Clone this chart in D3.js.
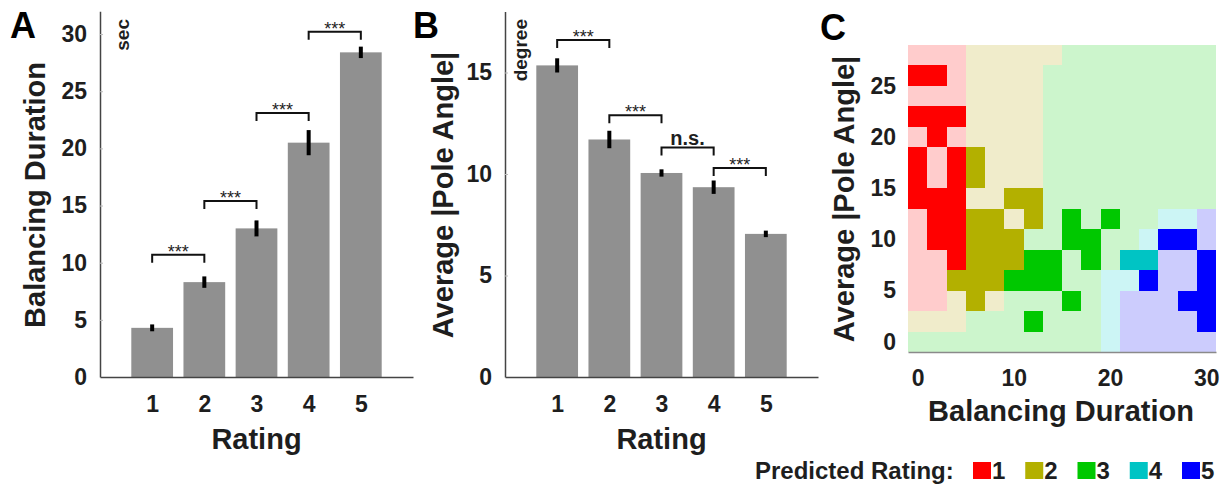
<!DOCTYPE html>
<html>
<head>
<meta charset="utf-8">
<script src="https://cdn.jsdelivr.net/npm/d3@7"></script>
<style>
  body { margin: 0; background: #fff; }
  svg  { display: block; font-family: "Liberation Sans", Arial, sans-serif; }
</style>
</head>
<body>
<svg id="chart" width="1224" height="485"></svg>
<script>
// ── Data ─────────────────────────────────────────────
const ratings = [1, 2, 3, 4, 5];

// A: balancing duration (sec) per rating
const durMean = [4.3, 8.3, 13.0, 20.5, 28.4];
const durErr  = [0.3, 0.5, 0.7, 1.1, 0.5];
const durTicks = [0, 5, 10, 15, 20, 25, 30];
const durSig  = [[1, 2, 10.7, '***'], [2, 3, 15.4, '***'], [3, 4, 23.1, '***'], [4, 5, 30.2, '***']];

// B: average |pole angle| (degree) per rating
const angMean = [15.35, 11.7, 10.05, 9.35, 7.05];
const angErr  = [0.35, 0.43, 0.18, 0.33, 0.16];
const angTicks = [0, 5, 10, 15];
const angSig  = [[1, 2, 16.6, '***'], [2, 3, 12.9, '***'], [3, 4, 11.3, 'n.s.'], [4, 5, 10.3, '***']];

// C: predicted rating map; columns = duration bins, rows = angle bins (top row first)
// '1'..'5' = observed cell, 'a'..'e' = background prediction 1..5
const gridX = [0, 2, 4, 6, 8, 10, 12, 14, 16, 18, 20, 22, 24, 26, 28, 30];
const gridY = [28, 26, 24, 22, 20, 18, 16, 14, 12, 10, 8, 6, 4, 2, 0];
const gridRows = [
  'aaabbbbbcccccccc',
  '11abbbbccccccccc',
  'aaabbbbccccccccc',
  '111bbbbccccccccc',
  'a1abbbbccccccccc',
  '1a12bbbccccccccc',
  '1a12bbbccccccccc',
  '111bb22ccccccccc',
  'a1122b2c3c3ccdde',
  'a11222cc33ccd55e',
  'aa122233c3c44ee5',
  'aa222333ccdd5ee5',
  'aab2bccc3cdeee55',
  'bbbccc3cccdeeee5',
  'ccccccccccdeeeee'
];
const mapXTicks = [0, 10, 20, 30];
const mapYTicks = [0, 5, 10, 15, 20, 25];
const classStrong = ['#ff0000', '#b3b000', '#00c800', '#00c4c4', '#0000ff'];
const classLight  = ['#ffcccc', '#f0eccb', '#ccf5cc', '#ccf5f5', '#ccccfd'];

// ── Setup ────────────────────────────────────────────
const svg = d3.select('#chart');
const INK = '#1e1e1e';
const BASE = 377;
const fmtInt = d3.format('d');

function styleAxis(g, size) {
  g.selectAll('text')
    .attr('font-size', size)
    .attr('font-weight', 'bold')
    .attr('font-family', '"Liberation Sans", Arial, sans-serif')
    .attr('fill', INK);
}

// ── Bar panels (A, B) ────────────────────────────────
function barPanel(p) {
  const x = d3.scaleLinear().domain([0, 6]).range([p.x0, p.x1]);
  const y = d3.scaleLinear().domain([0, p.ymax]).range([BASE, p.yTop]);
  const g = svg.append('g');
  const bw = x(0.8) - x(0);

  g.append('g').selectAll('rect').data(ratings).join('rect')
    .attr('x', d => x(d) - bw / 2)
    .attr('width', bw)
    .attr('y', (d, i) => y(p.mean[i]))
    .attr('height', (d, i) => y(0) - y(p.mean[i]))
    .attr('fill', '#909090');

  g.append('g').selectAll('line').data(ratings).join('line')
    .attr('x1', d => x(d)).attr('x2', d => x(d))
    .attr('y1', (d, i) => y(p.mean[i] - p.err[i]))
    .attr('y2', (d, i) => y(p.mean[i] + p.err[i]))
    .attr('stroke', '#000')
    .attr('stroke-width', 4);

  // axes
  const ya = g.append('g').attr('transform', `translate(${p.x0},0)`)
    .call(d3.axisLeft(y).tickValues(p.ticks).tickFormat(fmtInt)
      .tickSizeInner(-3).tickSizeOuter(0).tickPadding(13));
  ya.select('.domain').attr('stroke', '#444').attr('stroke-width', 1.5);
  ya.selectAll('.tick line').attr('stroke', '#bbb');
  styleAxis(ya, 23);

  const xa = g.append('g').attr('transform', `translate(0,${BASE})`)
    .call(d3.axisBottom(x).tickValues(ratings).tickFormat(fmtInt).tickSize(0).tickPadding(19));
  xa.select('.domain').attr('stroke', '#444').attr('stroke-width', 1.5);
  styleAxis(xa, 23);

  // significance brackets
  const sg = g.append('g');
  p.sig.forEach(([a, b, h, lab]) => {
    const yy = y(h);
    sg.append('path')
      .attr('d', `M${x(a)},${yy + 8}V${yy}H${x(b)}V${yy + 8}`)
      .attr('fill', 'none')
      .attr('stroke', '#111')
      .attr('stroke-width', 2);
    const stars = lab === '***';
    sg.append('text')
      .attr('x', (x(a) + x(b)) / 2)
      .attr('y', stars ? yy + 3 : yy - 3)
      .attr('text-anchor', 'middle')
      .attr('font-size', stars ? 18 : 20)
      .attr('font-weight', stars ? 'normal' : 'bold')
      .attr('fill', INK)
      .text(lab);
  });

  // unit label
  g.append('text')
    .attr('transform', `translate(${p.unitX},19) rotate(-90)`)
    .attr('text-anchor', 'end')
    .attr('font-size', 19)
    .attr('font-weight', 'bold')
    .attr('fill', INK)
    .text(p.unit);

  // axis titles
  g.append('text')
    .attr('transform', `translate(${p.titleX},195) rotate(-90)`)
    .attr('text-anchor', 'middle')
    .attr('font-size', 29)
    .attr('font-weight', 'bold')
    .attr('fill', INK)
    .text(p.ylabel);

  g.append('text')
    .attr('x', x(3)).attr('y', 449)
    .attr('text-anchor', 'middle')
    .attr('font-size', 29)
    .attr('font-weight', 'bold')
    .attr('fill', INK)
    .text('Rating');

  g.append('text')
    .attr('x', p.letterX).attr('y', 38)
    .attr('font-size', 36)
    .attr('font-weight', 'bold')
    .attr('fill', '#000')
    .text(p.letter);
}

barPanel({
  x0: 100, x1: 413, ymax: 32, yTop: 11.2,
  mean: durMean, err: durErr, ticks: durTicks, sig: durSig,
  unit: 'sec', unitX: 129, ylabel: 'Balancing Duration', titleX: 45,
  letter: 'A', letterX: 10
});

barPanel({
  x0: 505, x1: 818, ymax: 18, yTop: 11.6,
  mean: angMean, err: angErr, ticks: angTicks, sig: angSig,
  unit: 'degree', unitX: 527, ylabel: 'Average |Pole Angle|', titleX: 453,
  letter: 'B', letterX: 413
});

// ── Panel C: predicted rating map ────────────────────
(function () {
  const x = d3.scaleLinear().domain([-1, 31]).range([908, 1216]);
  const y = d3.scaleLinear().domain([-1, 29]).range([352, 45]);
  const g = svg.append('g');

  const cells = [];
  gridRows.forEach((row, r) => {
    row.split('').forEach((ch, c) => {
      const strong = ch >= '1' && ch <= '5';
      const cls = strong ? +ch : 'abcde'.indexOf(ch) + 1;
      cells.push({ cx: gridX[c], cy: gridY[r], cls, strong });
    });
  });

  g.append('g').selectAll('rect').data(cells).join('rect')
    .attr('x', d => x(d.cx - 1))
    .attr('y', d => y(d.cy + 1))
    .attr('width', d => x(d.cx + 1) - x(d.cx - 1) + 0.4)
    .attr('height', d => y(d.cy - 1) - y(d.cy + 1) + 0.4)
    .attr('shape-rendering', 'crispEdges')
    .attr('fill', d => d.strong ? classStrong[d.cls - 1] : classLight[d.cls - 1]);

  const xa = g.append('g').attr('transform', 'translate(0,352)')
    .call(d3.axisBottom(x).tickValues(mapXTicks).tickFormat(fmtInt).tickSize(0).tickPadding(18));
  xa.select('.domain').attr('stroke', '#8a8a8a').attr('stroke-width', 1.5);
  styleAxis(xa, 23);

  const ya = g.append('g').attr('transform', 'translate(908,0)')
    .call(d3.axisLeft(y).tickValues(mapYTicks).tickFormat(fmtInt).tickSize(0).tickPadding(12));
  ya.select('.domain').remove();
  styleAxis(ya, 23);

  g.append('text')
    .attr('x', 1061).attr('y', 421)
    .attr('text-anchor', 'middle')
    .attr('font-size', 29)
    .attr('font-weight', 'bold')
    .attr('fill', INK)
    .text('Balancing Duration');

  g.append('text')
    .attr('transform', 'translate(854,199) rotate(-90)')
    .attr('text-anchor', 'middle')
    .attr('font-size', 29)
    .attr('font-weight', 'bold')
    .attr('fill', INK)
    .text('Average |Pole Angle|');

  g.append('text')
    .attr('x', 820).attr('y', 40)
    .attr('font-size', 36)
    .attr('font-weight', 'bold')
    .attr('fill', '#000')
    .text('C');

  // legend
  const lx = d3.scaleLinear().domain([1, 5]).range([973, 1182]);
  const lg = g.append('g');
  lg.append('text')
    .attr('x', 755).attr('y', 479)
    .attr('font-size', 24)
    .attr('font-weight', 'bold')
    .attr('fill', INK)
    .text('Predicted Rating:');
  lg.selectAll('rect').data(ratings).join('rect')
    .attr('x', d => lx(d)).attr('y', 462)
    .attr('width', 18).attr('height', 17)
    .attr('fill', d => classStrong[d - 1]);
  lg.selectAll('text.lab').data(ratings).join('text')
    .attr('class', 'lab')
    .attr('x', d => lx(d) + 19).attr('y', 479)
    .attr('font-size', 24)
    .attr('font-weight', 'bold')
    .attr('fill', INK)
    .text(d => d);
})();
</script>
</body>
</html>
